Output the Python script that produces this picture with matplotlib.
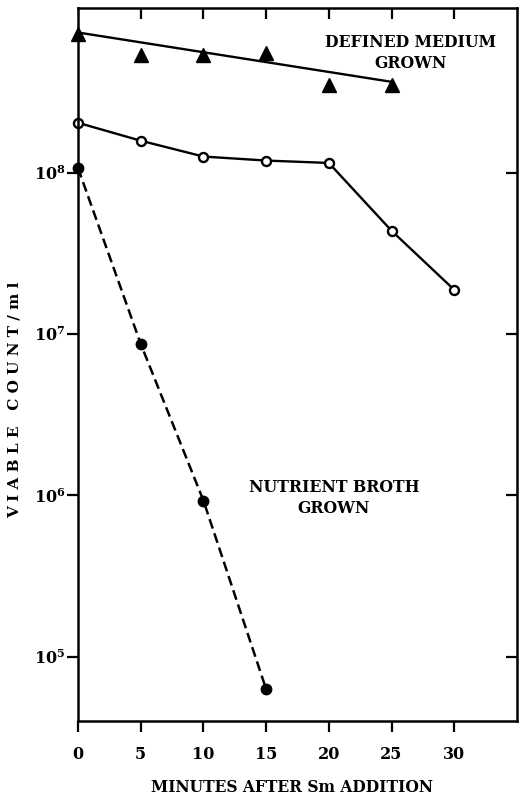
import matplotlib
matplotlib.use("Agg")
import matplotlib.pyplot as plt
import matplotlib.lines as mlines
from matplotlib.ticker import FixedLocator, NullLocator

# defined medium grown (triangles) and its fitted line
dm_x = [0, 5, 10, 15, 20, 25]
dm_y = [7.2e8, 5.4e8, 5.4e8, 5.5e8, 3.5e8, 3.5e8]
dm_fit_x = [0, 25]
dm_fit_y = [7.4e8, 3.66e8]

# open circles
oc_x = [0, 5, 10, 15, 20, 25, 30]
oc_y = [2.04e8, 1.58e8, 1.26e8, 1.19e8, 1.15e8, 4.37e7, 1.88e7]

# nutrient broth grown (filled circles, dashed)
nb_x = [0, 5, 10, 15]
nb_y = [1.07e8, 8.7e6, 9.3e5, 6.3e4]

x_ticks = [0, 5, 10, 15, 20, 25, 30]
y_ticks = [1e5, 1e6, 1e7, 1e8]
y_labels = ["$\\mathbf{10^{5}}$", "$\\mathbf{10^{6}}$", "$\\mathbf{10^{7}}$", "$\\mathbf{10^{8}}$"]

plt.rcParams["font.family"] = ["DejaVu Serif"]
plt.rcParams["mathtext.fontset"] = "dejavuserif"

fig = plt.figure(figsize=(5.27, 7.98), dpi=100)
ax = fig.add_axes([0.148, 0.0965, 0.833, 0.8935])

ax.plot(dm_fit_x, dm_fit_y, color="black", lw=1.7)
ax.plot(dm_x, dm_y, linestyle="none", marker="^", color="black", ms=9.5, clip_on=False)
ax.plot(oc_x, oc_y, color="black", lw=1.7, marker="o", ms=6.5, mfc="white",
        mec="black", mew=1.7, clip_on=False)
ax.plot(nb_x, nb_y, color="black", lw=1.8, ls=(0, (4, 2)), marker="o", ms=7.5,
        clip_on=False)

ax.set_yscale("log")
ax.set_xlim(0, 35)
ax.set_ylim(4.0e4, 1.05e9)

ax.xaxis.set_major_locator(FixedLocator(x_ticks))
ax.set_xticklabels([str(t) for t in x_ticks], fontweight="bold", fontsize=11.5)
ax.yaxis.set_major_locator(FixedLocator(y_ticks))
ax.yaxis.set_minor_locator(NullLocator())
ax.set_yticklabels(y_labels, fontsize=11.5)

ax.tick_params(axis="x", which="major", direction="out", length=8, width=1.6, pad=10,
               top=True)
ax.tick_params(axis="y", which="major", direction="out", length=8, width=1.6, pad=1,
               right=True)
# top and right ticks point inward, like the bottom/left ones point down/left
for t in ax.xaxis.get_major_ticks():
    t.tick2line.set_marker(mlines.TICKDOWN)
for t in ax.yaxis.get_major_ticks():
    t.tick2line.set_marker(mlines.TICKLEFT)
ax.xaxis.get_major_ticks()[0].tick2line.set_visible(False)

for s in ax.spines.values():
    s.set_linewidth(1.8)

ax.set_xlabel("MINUTES AFTER Sm ADDITION", fontweight="bold", fontsize=11.2)
ax.xaxis.set_label_coords(0.487, -0.082)
ax.set_ylabel("V I A B L E   C O U N T / m l", fontweight="bold", fontsize=11)
ax.yaxis.set_label_coords(-0.128, 0.45)

ax.text(26.5, 5.55e8, "DEFINED MEDIUM\nGROWN", ha="center", va="center",
        fontweight="bold", fontsize=11.3, linespacing=1.3)
ax.text(20.4, 9.7e5, "NUTRIENT BROTH\nGROWN", ha="center", va="center",
        fontweight="bold", fontsize=11.3, linespacing=1.3)

fig.savefig("out.png", dpi=100)
